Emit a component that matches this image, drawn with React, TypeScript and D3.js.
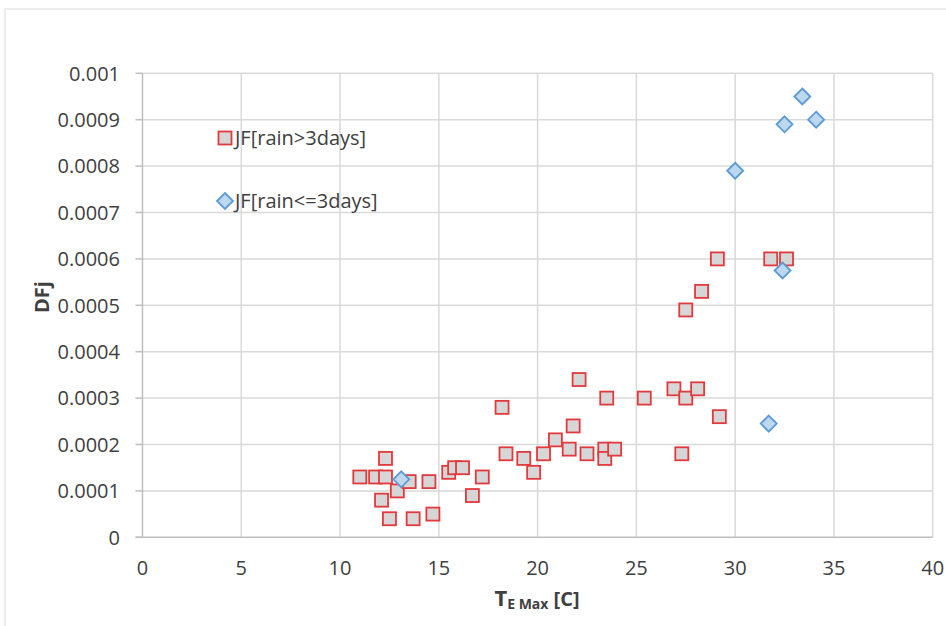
import React from "react";
import * as d3 from "d3";

// JF with more than 3 days of rain
const wetTemp = [
	11.0, 11.8, 12.3, 12.3, 12.1, 12.5, 12.9, 13.5, 13.7, 14.5, 14.7, 15.5, 15.8,
	16.2, 16.7, 17.2, 18.2, 18.4, 19.3, 19.8, 20.3, 20.9, 21.6, 21.8, 22.1, 22.5,
	23.4, 23.4, 23.5, 23.9, 25.4, 26.9, 27.3, 27.5, 28.1, 29.2, 27.5, 28.3, 29.1,
	31.8, 32.6,
];
const wetDF = [
	0.00013, 0.00013, 0.00013, 0.00017, 0.00008, 0.00004, 0.0001, 0.00012,
	0.00004, 0.00012, 0.00005, 0.00014, 0.00015, 0.00015, 0.00009, 0.00013,
	0.00028, 0.00018, 0.00017, 0.00014, 0.00018, 0.00021, 0.00019, 0.00024,
	0.00034, 0.00018, 0.00019, 0.00017, 0.0003, 0.00019, 0.0003, 0.00032,
	0.00018, 0.0003, 0.00032, 0.00026, 0.00049, 0.00053, 0.0006, 0.0006, 0.0006,
];

// JF with 3 days of rain or fewer
const dryTemp = [13.1, 30.0, 32.5, 33.4, 34.1, 32.4, 31.7];
const dryDF = [0.000125, 0.00079, 0.00089, 0.00095, 0.0009, 0.000575, 0.000245];

const xTicks = [0, 5, 10, 15, 20, 25, 30, 35, 40];
const yTicks = [0, 0.0001, 0.0002, 0.0003, 0.0004, 0.0005, 0.0006, 0.0007, 0.0008, 0.0009, 0.001];
const legendLabels = ["JF[rain>3days]", "JF[rain<=3days]"];

const W = 946;
const H = 626;
const FONT = "'Open Sans', 'Liberation Sans', sans-serif";

export default function App() {
	const x = d3.scaleLinear().domain([0, 40]).range([142.5, 932.7]);
	const y = d3.scaleLinear().domain([0, 0.001]).range([537.3, 73.3]);

	const square = (cx: number, cy: number, key: string) => (
		<rect
			key={key}
			x={cx - 6.5}
			y={cy - 6.5}
			width={13}
			height={13}
			fill="#d6d6d6"
			stroke="#e2393c"
			strokeWidth={1.8}
		/>
	);
	const diamond = (cx: number, cy: number, key: string) => (
		<path
			key={key}
			d={`M${cx},${cy - 8}L${cx + 8},${cy}L${cx},${cy + 8}L${cx - 8},${cy}Z`}
			fill="#bdd7ee"
			stroke="#5b9bd5"
			strokeWidth={1.8}
		/>
	);

	return (
		<svg
			width={W}
			height={H}
			style={{ position: "absolute", left: 0, top: 0, background: "#fff" }}
			fontFamily={FONT}
		>
			<rect x={5} y={9} width={W} height={H} fill="none" stroke="#d9d9d9" strokeWidth={1} />

			{/* grid */}
			{yTicks.slice(1).map((t) => (
				<line key={"gy" + t} x1={x(0)} x2={x(40)} y1={y(t)} y2={y(t)} stroke="#d9d9d9" strokeWidth={1.5} />
			))}
			{xTicks.slice(1).map((t) => (
				<line key={"gx" + t} x1={x(t)} x2={x(t)} y1={y(0)} y2={y(0.001)} stroke="#d9d9d9" strokeWidth={1.5} />
			))}

			{/* axes */}
			<line x1={x(0)} x2={x(0)} y1={y(0)} y2={y(0.001)} stroke="#bfbfbf" strokeWidth={1.5} />
			<line x1={x(0) - 7} x2={x(40)} y1={y(0)} y2={y(0)} stroke="#bfbfbf" strokeWidth={1.5} />
			{yTicks.map((t) => (
				<line key={"ty" + t} x1={x(0) - 7} x2={x(0)} y1={y(t)} y2={y(t)} stroke="#bfbfbf" strokeWidth={1.5} />
			))}

			{yTicks.map((t) => (
				<text key={"ly" + t} x={120} y={y(t)} dy="0.36em" textAnchor="end" fontSize={20} fill="#404040">
					{t === 0 ? "0" : d3.format(".4~f")(t)}
				</text>
			))}
			{xTicks.map((t) => (
				<text key={"lx" + t} x={x(t)} y={575} textAnchor="middle" fontSize={20} fill="#404040">
					{t}
				</text>
			))}

			{/* axis titles */}
			<text transform="translate(42,297) rotate(-90)" textAnchor="middle" dy="0.36em" fontSize={20} fontWeight="bold" fill="#404040">
				DFj
			</text>
			<text x={537} y={606} textAnchor="middle" fontWeight="bold" fill="#404040">
				<tspan fontSize={22}>T</tspan>
				<tspan fontSize={14} dy={3}>E Max</tspan>
				<tspan fontSize={20} dy={-3}> [C]</tspan>
			</text>

			{/* points */}
			{wetTemp.map((t, i) => square(x(t), y(wetDF[i]), "w" + i))}
			{dryTemp.map((t, i) => diamond(x(t), y(dryDF[i]), "d" + i))}

			{/* legend */}
			{square(225, 138, "lg0")}
			<text x={235} y={138} dy="0.36em" fontSize={20} fill="#404040">
				{legendLabels[0]}
			</text>
			{diamond(225, 201, "lg1")}
			<text x={235} y={201} dy="0.36em" fontSize={20} fill="#404040">
				{legendLabels[1]}
			</text>
		</svg>
	);
}
